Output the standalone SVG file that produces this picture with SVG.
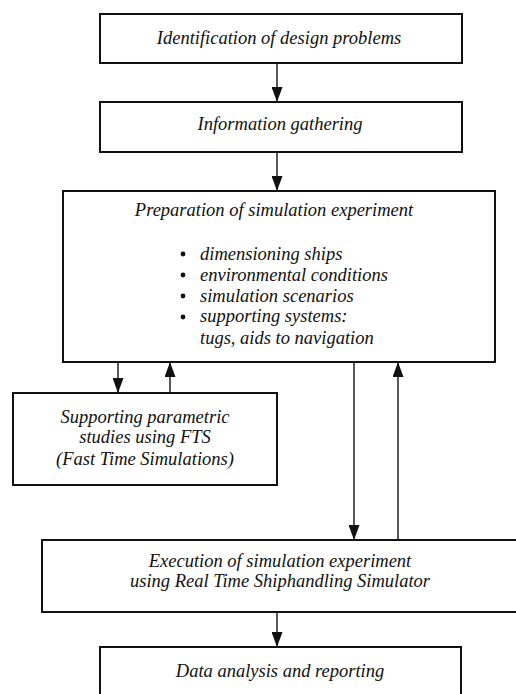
<svg xmlns="http://www.w3.org/2000/svg" width="516" height="694" viewBox="0 0 516 694">
<style>
.box{fill:#fff;stroke:#111;stroke-width:2}
.t{font-family:"Liberation Serif","Times New Roman",serif;font-style:italic;font-size:18.5px;fill:#111}
.c{text-anchor:middle}
.ln{stroke:#111;stroke-width:1.4;fill:none}
.bul{fill:#111}
</style>
<defs>
<marker id="ah" viewBox="0 0 11 15" refX="11" refY="5.5" markerWidth="11" markerHeight="15" markerUnits="userSpaceOnUse" orient="auto">
<path d="M0,0 L15,5.5 L0,11 Z" fill="#111"/>
</marker>
<marker id="a" viewBox="0 0 15 11" refX="15" refY="5.5" markerWidth="15" markerHeight="11" markerUnits="userSpaceOnUse" orient="auto">
<path d="M0,0 L15,5.5 L0,11 Z" fill="#111"/>
</marker>
</defs>
<rect width="516" height="694" fill="#fff"/>
<g id="connectors">
<line class="ln" x1="277" y1="63" x2="277" y2="102" marker-end="url(#a)"/>
<line class="ln" x1="277" y1="152" x2="277" y2="191" marker-end="url(#a)"/>
<line class="ln" x1="118" y1="362" x2="118" y2="393" marker-end="url(#a)"/>
<line class="ln" x1="170" y1="393" x2="170" y2="362" marker-end="url(#a)"/>
<line class="ln" x1="354" y1="362" x2="354" y2="540" marker-end="url(#a)"/>
<line class="ln" x1="398" y1="540" x2="398" y2="362" marker-end="url(#a)"/>
<line class="ln" x1="277" y1="612" x2="277" y2="647" marker-end="url(#a)"/>
</g>
<g id="n1">
<rect class="box" x="100" y="14" width="362" height="49"/>
<text class="t c" x="279" y="44">Identification of design problems</text>
</g>
<g id="n2">
<rect class="box" x="100" y="102" width="362" height="50"/>
<text class="t c" x="280" y="130">Information gathering</text>
</g>
<g id="n3">
<rect class="box" x="63" y="191" width="432" height="171"/>
<text class="t c" x="274" y="216">Preparation of simulation experiment</text>
<circle class="bul" cx="183" cy="254" r="2.4"/>
<circle class="bul" cx="183" cy="275" r="2.4"/>
<circle class="bul" cx="183" cy="296" r="2.4"/>
<circle class="bul" cx="183" cy="317" r="2.4"/>
<text class="t" x="200" y="260">dimensioning ships</text>
<text class="t" x="200" y="281">environmental conditions</text>
<text class="t" x="200" y="302">simulation scenarios</text>
<text class="t" x="200" y="322">supporting systems:</text>
<text class="t" x="200" y="344">tugs, aids to navigation</text>
</g>
<g id="n4">
<rect class="box" x="13" y="393" width="264" height="92"/>
<text class="t c" x="145" y="423">Supporting parametric</text>
<text class="t c" x="145" y="443">studies using FTS</text>
<text class="t c" x="145" y="465">(Fast Time Simulations)</text>
</g>
<g id="n5">
<rect class="box" x="42" y="540" width="490" height="72"/>
<text class="t c" x="280" y="567">Execution of simulation experiment</text>
<text class="t c" x="280" y="587">using Real Time Shiphandling Simulator</text>
</g>
<g id="n6">
<rect class="box" x="100" y="647" width="361" height="60"/>
<text class="t c" x="280" y="677">Data analysis and reporting</text>
</g>
</svg>
